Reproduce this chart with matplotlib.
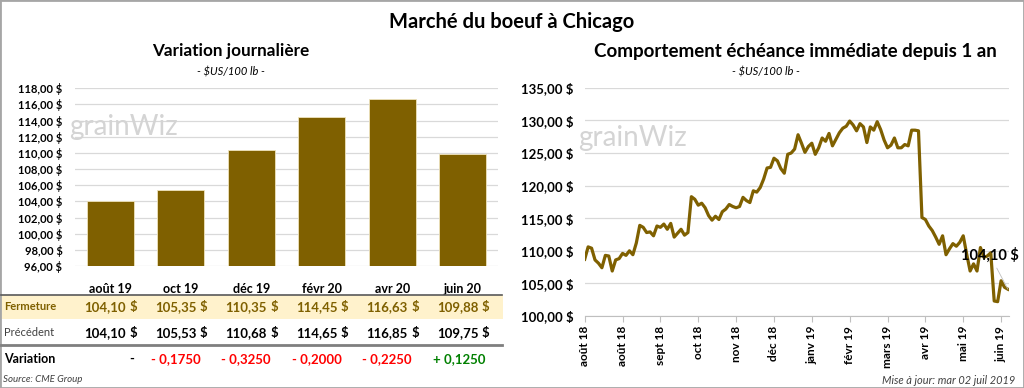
import numpy as np
import matplotlib.pyplot as plt
from matplotlib.patches import Rectangle
from matplotlib.lines import Line2D
from matplotlib.transforms import blended_transform_factory

plt.rcParams['font.family'] = ['Lato', 'DejaVu Sans']

# Données - variation journalière
categories = ['août 19', 'oct 19', 'déc 19', 'févr 20', 'avr 20', 'juin 20']
fermeture = [104.10, 105.35, 110.35, 114.45, 116.63, 109.88]
precedent = [104.10, 105.53, 110.68, 114.65, 116.85, 109.75]
variation = [0.0, -0.1750, -0.3250, -0.2000, -0.2250, 0.1250]

# Données - échéance immédiate depuis 1 an
prix = [
    108.7, 110.6, 110.4, 108.6, 108.1, 107.4, 109.3, 109.2, 106.9, 108.6,
    108.8, 109.6, 109.3, 110.0, 109.4, 111.2, 113.9, 113.6, 112.8, 112.9,
    112.3, 113.8, 113.6, 114.1, 113.3, 114.2, 112.1, 112.7, 113.3, 112.4,
    112.8, 118.3, 117.9, 117.0, 117.3, 116.6, 115.4, 114.7, 115.3, 114.8,
    116.0, 116.4, 117.1, 116.8, 116.6, 116.8, 118.2, 117.7, 117.4, 119.2,
    119.0, 119.7, 121.0, 122.7, 122.8, 124.2, 123.8, 122.6, 121.9, 124.8,
    125.0, 125.6, 127.8, 126.5, 125.1, 126.0, 126.5, 124.8, 125.8, 127.3,
    126.8, 128.0, 126.1, 127.1, 128.1, 128.8, 129.1, 129.9, 129.3, 128.4,
    129.5, 129.0, 126.6, 129.0, 128.5, 129.8, 128.6, 127.0, 125.8, 126.2,
    127.3, 125.8, 125.8, 126.3, 126.1, 128.5, 128.5, 128.4, 115.1, 114.8,
    113.8, 113.1, 112.1, 111.0, 112.3, 109.4, 110.3, 111.1, 110.7, 111.3,
    112.3, 109.5, 106.9, 108.0, 106.9, 110.5, 109.0, 109.2, 109.7, 102.3,
    102.2, 105.4, 104.4, 104.1,
]
etiquettes_x = ['août 18', 'août 18', 'sept 18', 'oct 18', 'nov 18', 'déc 18',
                'janv 19', 'févr 19', 'mars 19', 'avr 19', 'mai 19', 'juin 19']
pas_etiquettes = 11

OR = '#7F6000'
GRILLE = '#d9d9d9'

W, H = 1024, 388
def fx(px):
    return px / W
def fy(py):
    return 1 - py / H

def fr(v, d=2):
    return f"{v:.{d}f}".replace('.', ',')

fig = plt.figure(figsize=(10.24, 3.88), dpi=100)
fig.add_artist(Rectangle((0, 0), 1, 1, transform=fig.transFigure, fill=False,
                         edgecolor='#a6a6a6', lw=2))

# Titre principal
fig.text(0.5, fy(22), 'Marché du boeuf à Chicago', ha='center', va='center',
         fontsize=14.5, fontweight='bold')

# ---------- Graphique de gauche ----------
fig.text(fx(231), fy(51), 'Variation journalière', ha='center', va='center',
         fontsize=12.3, fontweight='bold')
fig.text(fx(231), fy(72), '- $US/100 lb -', ha='center', va='center',
         fontsize=8, style='italic')

ax1 = fig.add_axes([fx(75), fy(266), (498 - 75) / W, (266 - 88.3) / H])
x = np.arange(len(categories))
ax1.bar(x, fermeture, width=0.66, color=OR, edgecolor='#efe3bd', linewidth=0.6, zorder=3)
ax1.set_xlim(-0.5, len(categories) - 0.5)
ax1.set_ylim(96, 118)
yt = np.arange(96, 119, 2)
ax1.set_yticks(yt)
ax1.set_yticklabels([fr(v) + ' $' for v in yt], fontsize=8, fontweight='bold')
ax1.set_xticks([])
ax1.tick_params(axis='y', length=0, pad=9)
ax1.grid(axis='y', color=GRILLE, lw=0.9)
ax1.set_axisbelow(True)
for s in ax1.spines.values():
    s.set_visible(False)
ax1.text(-0.015, 0.78, 'grainWiz', transform=ax1.transAxes, fontsize=20,
         color='#d4d4d4', ha='left', va='center', zorder=1)

# Tableau sous le graphique
tr = blended_transform_factory(ax1.transData, fig.transFigure)
fig.add_artist(Rectangle((fx(1), fy(319)), fx(503) - fx(1), (319 - 295) / H,
                         transform=fig.transFigure, facecolor='#FFF2CC', edgecolor='none', zorder=0))
fig.add_artist(Line2D([fx(1), fx(502)], [fy(295), fy(295)], color='#595959', lw=1.2))
fig.add_artist(Line2D([fx(1), fx(502)], [fy(345), fy(345)], color='#7f7f7f', lw=2))

fig.text(fx(4), fy(307), 'Fermeture', color=OR, fontsize=8, fontweight='bold', va='center')
fig.text(fx(4), fy(333), 'Précédent', color='#404040', fontsize=8, va='center')
fig.text(fx(4), fy(359), 'Variation', color='black', fontsize=9, fontweight='bold', va='center')

for i, c in enumerate(categories):
    ax1.text(i, fy(289), c, transform=tr, ha='center', va='center', fontsize=9, fontweight='bold')
    ax1.text(i + 0.22, fy(307), fr(fermeture[i]), transform=tr, ha='right', va='center',
             fontsize=9.5, fontweight='bold', color=OR)
    ax1.text(i + 0.38, fy(307), '$', transform=tr, ha='right', va='center',
             fontsize=9.5, fontweight='bold', color=OR)
    ax1.text(i + 0.22, fy(333), fr(precedent[i]), transform=tr, ha='right', va='center',
             fontsize=9.5, fontweight='bold', color='black')
    ax1.text(i + 0.38, fy(333), '$', transform=tr, ha='right', va='center',
             fontsize=9.5, fontweight='bold', color='black')
    v = variation[i]
    if v == 0:
        txt, col, dx = '-', 'black', 0.34
    elif v < 0:
        txt, col, dx = '- ' + fr(-v, 4), '#ff0000', 0.28
    else:
        txt, col, dx = '+ ' + fr(v, 4), '#008000', 0.32
    ax1.text(i + dx, fy(359), txt, transform=tr, ha='right', va='center',
             fontsize=9.5, fontweight='bold', color=col)

fig.text(fx(3), fy(380), 'Source: CME Group', fontsize=7, style='italic',
         color='#404040', va='center')

# ---------- Graphique de droite ----------
fig.text(fx(795), fy(51), 'Comportement échéance immédiate depuis 1 an', ha='center',
         va='center', fontsize=13.5, fontweight='bold')
fig.text(fx(766), fy(72), '- $US/100 lb -', ha='center', va='center',
         fontsize=8, style='italic')

ax2 = fig.add_axes([fx(584.7), fy(316), (1009 - 584.7) / W, (316 - 87.8) / H])
t = np.arange(len(prix))
ax2.plot(t, prix, color=OR, lw=2.3, zorder=3)
ax2.set_xlim(0, len(prix) - 0.7)
ax2.set_ylim(100, 135)
yt2 = np.arange(100, 136, 5)
ax2.set_yticks(yt2)
ax2.set_yticklabels([fr(v) + ' $' for v in yt2], fontsize=9.5, fontweight='bold')
ax2.set_xticks(np.arange(0, len(prix), pas_etiquettes))
ax2.set_xticklabels(etiquettes_x, rotation=90, fontsize=8.5, fontweight='bold')
ax2.tick_params(axis='y', length=0, pad=8)
ax2.tick_params(axis='x', length=4, color='#bfbfbf', pad=3)
ax2.grid(axis='y', color=GRILLE, lw=0.9)
ax2.set_axisbelow(True)
for s in ['top', 'right', 'left']:
    ax2.spines[s].set_visible(False)
ax2.spines['bottom'].set_color('#bfbfbf')
ax2.text(-0.015, 0.78, 'grainWiz', transform=ax2.transAxes, fontsize=20,
         color='#d4d4d4', ha='left', va='center', zorder=1)
ax2.annotate(fr(prix[-1]) + ' $', xy=(len(prix) - 1, prix[-1]), xytext=(-18, 34),
             textcoords='offset pixels', ha='center', va='center', fontsize=10.5,
             fontweight='bold', color='black', zorder=4,
             arrowprops=dict(arrowstyle='-', color='#bfbfbf', lw=0.6, shrinkA=2, shrinkB=0))

fig.text(fx(1015), fy(380), 'Mise à jour: mar 02 juil 2019', fontsize=7.9, style='italic',
         color='#404040', ha='right', va='center')

fig.savefig('out.png', dpi=100)
